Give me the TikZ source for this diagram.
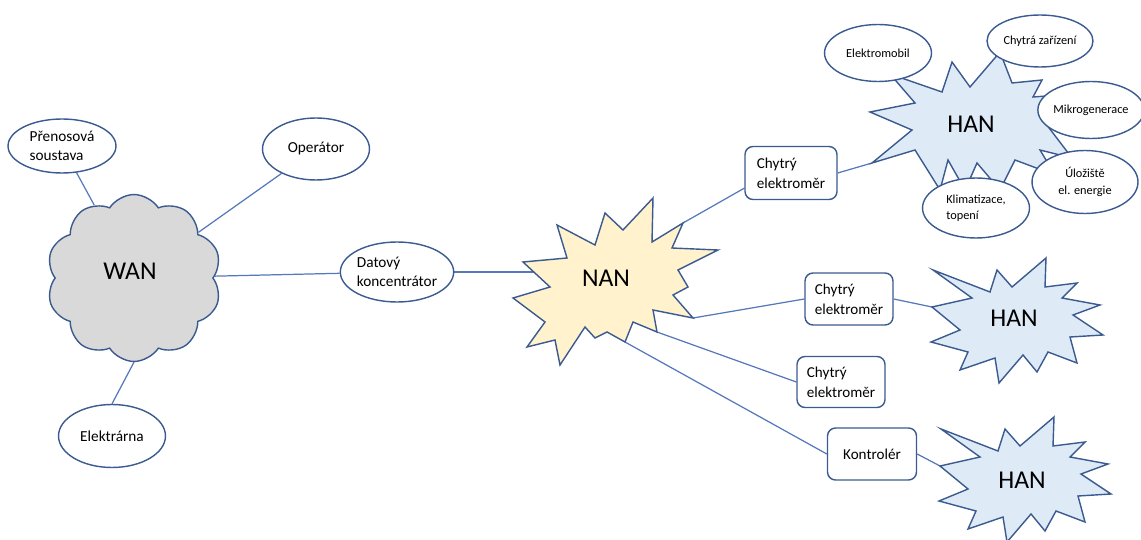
\documentclass[tikz,border=0pt]{standalone}
\usepackage{fontspec}
\setmainfont{Carlito}
\usetikzlibrary{shapes.geometric,shapes.symbols,backgrounds}
\definecolor{edgec}{HTML}{3A5A90}
\definecolor{connc}{HTML}{5577BB}
\definecolor{wanfill}{HTML}{D9D9D9}
\definecolor{nanfill}{HTML}{FFF2CC}
\definecolor{hanfill}{HTML}{DEEBF7}
\begin{document}
\begin{tikzpicture}[x=0.02cm,y=-0.02cm,
  ell/.style={ellipse,draw=edgec,line width=0.8pt,fill=white,inner sep=0pt,align=center,font=\fontsize{8.7}{11}\selectfont},
  sml/.style={font=\fontsize{7}{9.4}\selectfont},
  rbox/.style={rectangle,rounded corners=0.16cm,draw=edgec,line width=0.8pt,fill=white,inner sep=0pt,align=left,font=\fontsize{8.6}{11.2}\selectfont},
  star/.style={draw=edgec,line width=0.8pt,line join=miter},
  big/.style={font=\fontsize{14.6}{17}\selectfont},
  conn/.style={draw=connc,line width=0.7pt}]
\useasboundingbox (0,0) rectangle (1141,540);

% WAN cloud
\node[cloud,cloud puffs=10,cloud puff arc=115,aspect=1.05,draw=edgec,line width=0.8pt,fill=wanfill,minimum width=3.5cm,minimum height=3.34cm,inner sep=0pt] (wan) at (134,278) {};
\node[big] (wantxt) at (130,271) {WAN};

% NAN star
\path[star,fill=nanfill] (557,225) -- (595,245) -- (605,213) -- (623,230) -- (653,198) -- (652,242) -- (683,223) -- (672,248) -- (718,250) -- (678,270) -- (688,287) -- (673,295) -- (693,318) -- (653,310) -- (657,332) -- (633,322) -- (625,342) -- (607,332) -- (595,338) -- (585,327) -- (560,365) -- (555,340) -- (527,347) -- (545,322) -- (513,298) -- (550,287) -- (523,262) -- (567,258) -- cycle;
\node[big] (nan) at (606,278) {NAN};
\coordinate (nanL) at (534,272);
\coordinate (nanA) at (683,223);
\coordinate (nanB) at (693,318);
\coordinate (nanC) at (657,332);
\coordinate (nanD) at (625,342);

% HAN 1 (top)
\path[star,fill=hanfill] (870,112) -- (915,103) -- (890,74) -- (942,92) -- (952,62) -- (970,87) -- (1000,52) -- (1012,83) -- (1042,80) -- (1033,97) -- (1060,95) -- (1043,120) -- (1072,158) -- (1040,150) -- (1055,175) -- (1015,160) -- (1000,190) -- (977,163) -- (965,190) -- (948,160) -- (940,190) -- (915,150) -- (872,163) -- (912,130) -- cycle;
\node[big] (han1) at (971,124) {HAN};
\coordinate (han1L) at (872,163);

% HAN 2
\begin{scope}[shift={(1014,318)}]
\path[star,fill=hanfill] (-81,-48) -- (-24,-26) -- (-17,-48) -- (-2,-31) -- (32,-60) -- (31,-31) -- (63,-35) -- (48,-20) -- (86,-13) -- (59,-3) -- (89,17) -- (56,19) -- (63,45) -- (34,34) -- (23,54) -- (9,37) -- (-15,65) -- (-19,40) -- (-54,52) -- (-46,34) -- (-83,24) -- (-54,12) -- (-82,-11) -- (-42,-20) -- cycle;
\node[big] (han2) at (0,0) {HAN};
\coordinate (han2L) at (-82,-11);
\end{scope}

% HAN 3
\begin{scope}[shift={(1022,477)}]
\path[star,fill=hanfill] (-81,-48) -- (-24,-26) -- (-17,-48) -- (-2,-31) -- (32,-60) -- (31,-31) -- (63,-35) -- (48,-20) -- (86,-13) -- (59,-3) -- (89,17) -- (56,19) -- (63,45) -- (34,34) -- (23,54) -- (9,37) -- (-15,65) -- (-19,40) -- (-54,52) -- (-46,34) -- (-83,24) -- (-54,12) -- (-82,-11) -- (-42,-20) -- cycle;
\node[big] (han3) at (0,3) {HAN};
\coordinate (han3L) at (-82,-11);
\end{scope}

% WAN side ellipses
\node[ell,minimum width=2.16cm,minimum height=1.08cm,align=left] (prenos) at (62,146) {Přenosová\\soustava};
\node[ell,minimum width=2.14cm,minimum height=1.24cm] (operator) at (316,149) {Operátor};
\node[ell,minimum width=2.14cm,minimum height=1.26cm] (elektrarna) at (112,436) {Elektrárna};
\node[ell,minimum width=2.16cm,minimum height=1.20cm,align=left] (datovy) at (397,272) {Datový\\koncentrátor};

% HAN 1 ellipses
\node[ell,sml,minimum width=2.14cm,minimum height=1.14cm] (elmob) at (878,53) {Elektromobil};
\node[ell,sml,minimum width=2.12cm,minimum height=1.04cm] (chytra) at (1040,41) {Chytrá zařízení};
\node[ell,sml,minimum width=2.0cm,minimum height=1.14cm] (mikro) at (1091,110) {Mikrogenerace};
\node[ell,sml,minimum width=2.12cm,minimum height=1.26cm] (uloz) at (1085,182) {Úložiště\\el. energie};
\node[ell,sml,minimum width=2.14cm,minimum height=1.20cm,align=left] (klima) at (976,208) {Klimatizace,\\ topení};

% boxes
\node[rbox,minimum width=1.84cm,minimum height=1.06cm] (box1) at (791,173) {Chytrý\\elektroměr};
\node[rbox,minimum width=1.76cm,minimum height=1.04cm] (box2) at (849,299) {Chytrý\\elektroměr};
\node[rbox,minimum width=1.76cm,minimum height=1.02cm] (box3) at (841,382) {Chytrý\\elektroměr};
\node[rbox,minimum width=1.78cm,minimum height=1.04cm] (kontr) at (872,454) {Kontrolér};

% connectors
\begin{pgfonlayer}{background}
\draw[conn] (wan) -- (prenos);
\draw[conn] (wan) -- (operator);
\draw[conn] (wan.south) -- (elektrarna.north);
\draw[conn] (wan) -- (datovy);
\draw[conn] (datovy.east) -- (nanL);
\draw[conn] (nanA) -- (box1.198);
\draw[conn] (box1.east) -- (han1L);
\draw[conn] (nanB) -- (box2.west);
\draw[conn] (box2.east) -- (han2L);
\draw[conn] (nanC) -- (box3.west);
\draw[conn] (nanD) -- (kontr.west);
\draw[conn] (kontr.east) -- (han3L);
\end{pgfonlayer}
\end{tikzpicture}
\end{document}
